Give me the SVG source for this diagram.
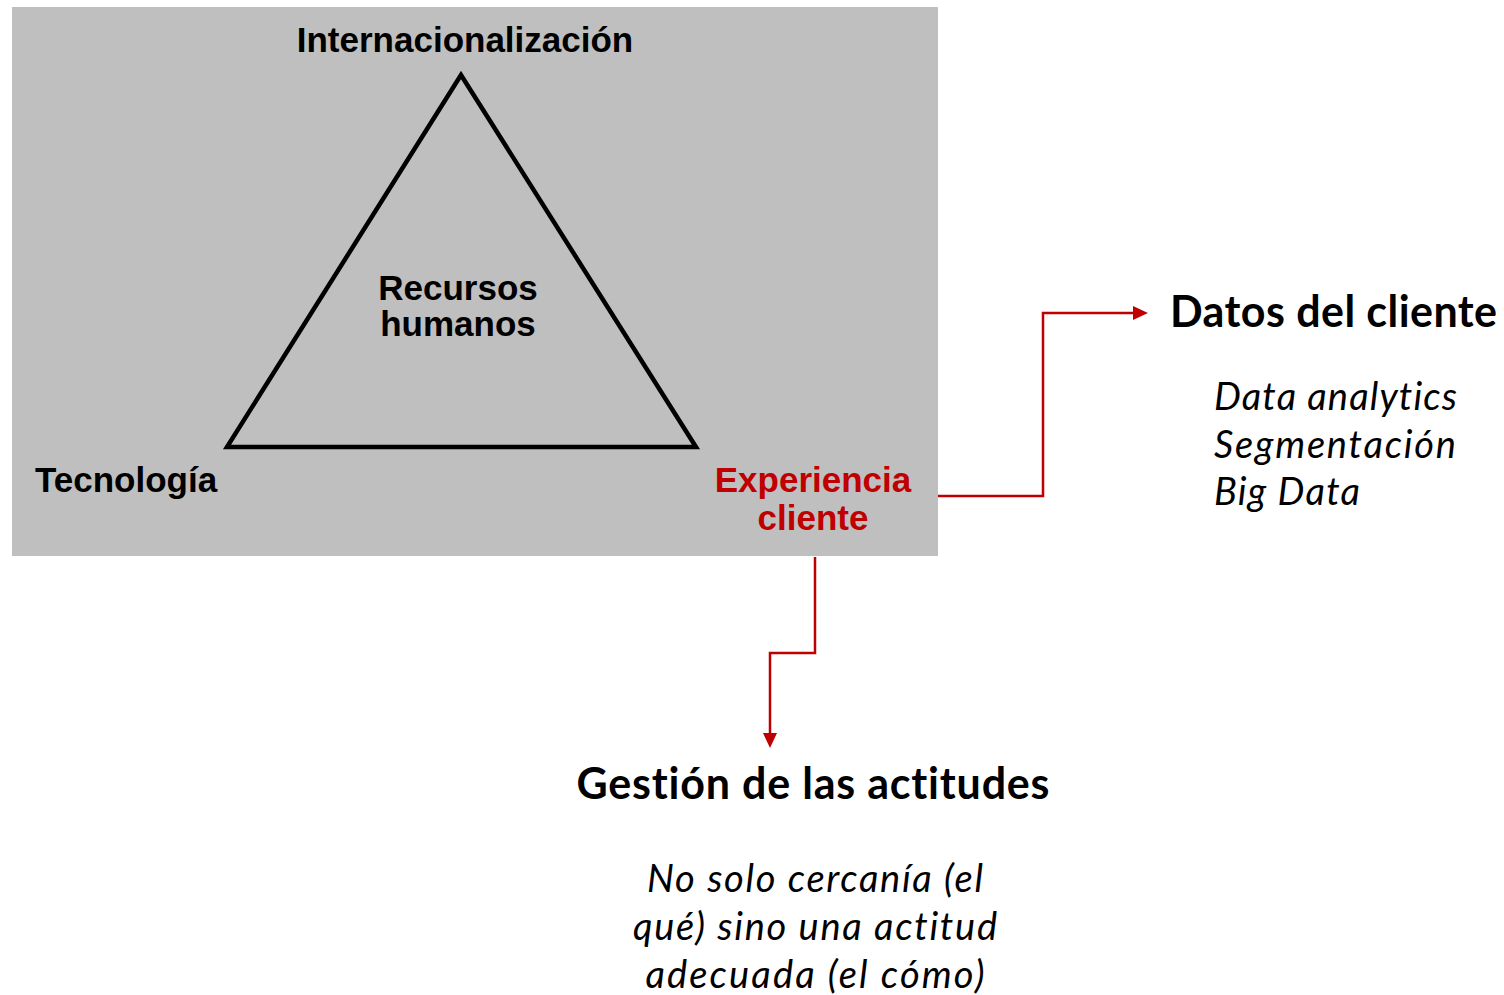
<svg xmlns="http://www.w3.org/2000/svg" width="1504" height="995" viewBox="0 0 1504 995">
<defs>
<marker id="arr" markerUnits="userSpaceOnUse" markerWidth="16" markerHeight="14" refX="1" refY="7" orient="auto">
<path d="M0,0 L15,7 L0,14 Z" fill="#C00000"/>
</marker>
<style>
.ar{font-family:"Liberation Sans",Arial,sans-serif;font-weight:bold;font-size:35px;fill:#000}
.red{fill:#C00000}
.hd{font-family:Lato,"Open Sans",sans-serif;font-weight:bold;font-size:43px;fill:#000;font-variant-ligatures:none}
.it{font-family:Lato,"Open Sans",sans-serif;font-style:italic;font-size:38px;fill:#000;font-variant-ligatures:none}
.con{fill:none;stroke:#C00000;stroke-width:2.5}
</style>
</defs>
<rect width="1504" height="995" fill="#fff"/>
<g id="panel">
<rect x="12" y="7" width="926" height="549" fill="#BFBFBF"/>
<polygon points="461,75 227,447 696,447" fill="none" stroke="#000" stroke-width="4.5" stroke-linejoin="miter"/>
</g>
<g id="internacionalizacion"><text class="ar" x="465" y="52" text-anchor="middle">Internacionalización</text></g>
<g id="recursos"><text class="ar" x="458" y="300" text-anchor="middle">Recursos</text><text class="ar" x="458" y="336" text-anchor="middle">humanos</text></g>
<g id="tecnologia"><text class="ar" x="35" y="492">Tecnología</text></g>
<g id="experiencia"><text class="ar red" x="813" y="492" text-anchor="middle">Experiencia</text><text class="ar red" x="813" y="530" text-anchor="middle">cliente</text></g>
<g id="connectors">
<path class="con" d="M938,496 H1043 V313 H1134" marker-end="url(#arr)"/>
<path class="con" d="M815,557 V653 H770 V734" marker-end="url(#arr)"/>
</g>
<g id="datos">
<text class="hd" x="1170" y="327" textLength="327">Datos del cliente</text>
<text class="it" x="1214" y="410" textLength="243">Data analytics</text>
<text class="it" x="1214" y="458" textLength="242">Segmentación</text>
<text class="it" x="1214" y="505" textLength="146">Big Data</text>
</g>
<g id="gestion">
<text class="hd" x="813" y="799" text-anchor="middle" textLength="473">Gestión de las actitudes</text>
<text class="it" x="815" y="892" text-anchor="middle" textLength="336">No solo cercanía (el</text>
<text class="it" x="815" y="940" text-anchor="middle" textLength="364">qué) sino una actitud</text>
<text class="it" x="815" y="988" text-anchor="middle" textLength="339">adecuada (el cómo)</text>
</g>
</svg>
